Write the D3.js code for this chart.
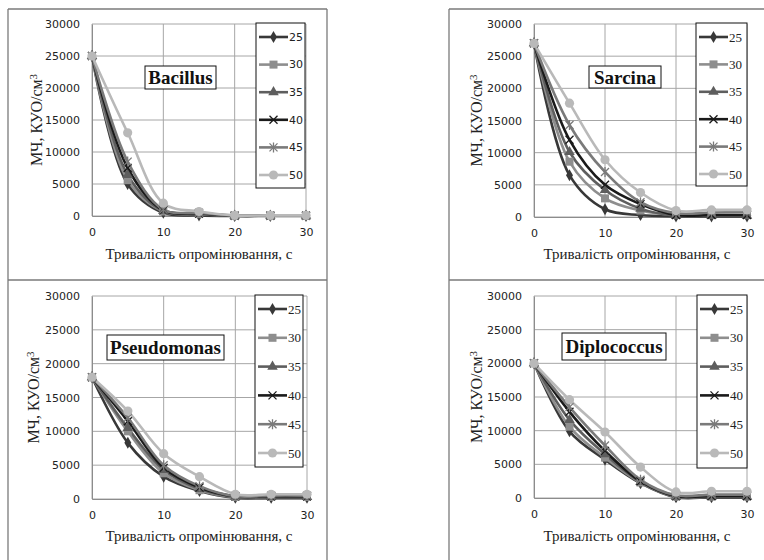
<!DOCTYPE html>
<html>
<head>
<meta charset="utf-8">
<script src="https://cdn.jsdelivr.net/npm/d3@7"></script>
<style>
  body { margin: 0; background: #fff; }
  svg { display: block; }
  .serif { font-family: "Liberation Serif", "Times New Roman", "DejaVu Serif", serif; }
  .sans { font-family: "DejaVu Sans", "Liberation Sans", sans-serif; }
</style>
</head>
<body>
<svg id="chart" width="764" height="560"></svg>
<script>
// durations, temperatures, ticks
const times = [0, 5, 10, 15, 20, 25, 30];
const temps = ["25", "30", "35", "40", "45", "50"];
const xTicks = [0, 10, 20, 30];
const yTicks = [0, 5000, 10000, 15000, 20000, 25000, 30000];

// one row per temperature (25..50), one value per duration
const bacillus = [
  [25000, 5000, 500, 100, 0, 0, 0],
  [25000, 5600, 700, 300, 50, 50, 50],
  [25000, 6400, 800, 400, 50, 50, 50],
  [25000, 7500, 900, 400, 50, 50, 50],
  [25000, 8500, 1000, 500, 50, 50, 50],
  [25000, 13000, 2000, 700, 100, 100, 100]
];
const sarcina = [
  [27000, 6500, 1200, 300, 100, 100, 100],
  [27000, 8600, 2900, 1000, 300, 300, 300],
  [27000, 10100, 4200, 1300, 200, 200, 200],
  [27000, 12000, 5000, 2000, 300, 300, 300],
  [27000, 14300, 7000, 2300, 600, 700, 800],
  [27000, 17700, 8900, 3800, 1000, 1100, 1100]
];
const pseudomonas = [
  [18000, 8300, 3300, 1200, 200, 200, 200],
  [18000, 10000, 3800, 1300, 300, 300, 300],
  [18000, 10500, 4300, 1500, 300, 300, 300],
  [18000, 11500, 4600, 1700, 400, 400, 400],
  [18000, 12000, 5000, 1900, 400, 500, 500],
  [18000, 13000, 6700, 3300, 700, 700, 700]
];
const diplococcus = [
  [20000, 9900, 5700, 2200, 100, 100, 100],
  [20000, 10600, 6000, 2300, 200, 200, 200],
  [20000, 11600, 6500, 2400, 200, 200, 200],
  [20000, 12800, 7000, 2500, 300, 300, 300],
  [20000, 13500, 7800, 2700, 400, 500, 500],
  [20000, 14600, 9800, 4600, 900, 1000, 1000]
];

const colors = ["#383838", "#8e8e8e", "#5e5e5e", "#1a1a1a", "#7a7a7a", "#b9b9b9"];
const markers = ["diamond", "square", "triangle", "x", "star", "circle"];

const panels = [
  { name: "Bacillus", data: bacillus, px: [92, 306], py: [216, 24],
    leg: { x: 256, y: 23, w: 49, h: 165, step: 27.6, cls: "sans", size: 11 },
    title: { x: 145, y: 66, w: 71, h: 23 }, ylab: 36, xlab: [199, 259] },
  { name: "Sarcina", data: sarcina, px: [534, 747], py: [217, 24],
    leg: { x: 696, y: 23, w: 51, h: 163, step: 27.4, cls: "serif", size: 13 },
    title: { x: 589, y: 66, w: 72, h: 22 }, ylab: 476, xlab: [637, 259] },
  { name: "Pseudomonas", data: pseudomonas, px: [92, 307], py: [499, 296],
    leg: { x: 255, y: 295, w: 48, h: 172, step: 28.8, cls: "serif", size: 13 },
    title: { x: 107, y: 335, w: 117, h: 25 }, ylab: 33, xlab: [199, 541] },
  { name: "Diplococcus", data: diplococcus, px: [534, 747], py: [498, 296],
    leg: { x: 697, y: 295, w: 50, h: 173, step: 28.8, cls: "serif", size: 13 },
    title: { x: 562, y: 333, w: 104, h: 27 }, ylab: 476, xlab: [637, 541] }
];

const svg = d3.select("#chart");

// outer frames of the four panels
const frame = svg.append("g").attr("stroke", "#7a7a7a").attr("stroke-width", 1.3);
[[8, 9, 8, 560], [327, 9, 327, 560], [449, 9, 449, 560],
 [8, 9, 327, 9], [449, 9, 764, 9], [8, 280, 327, 280], [449, 280, 764, 280]]
  .forEach(l => frame.append("line").attr("x1", l[0]).attr("y1", l[1]).attr("x2", l[2]).attr("y2", l[3]));

function drawMarker(g, type, color) {
  if (type === "diamond") {
    g.append("path").attr("d", d3.symbol(d3.symbolDiamond, 42)()).attr("fill", color);
  } else if (type === "square") {
    g.append("rect").attr("x", -4).attr("y", -4).attr("width", 8).attr("height", 8).attr("fill", color);
  } else if (type === "triangle") {
    g.append("path").attr("d", d3.symbol(d3.symbolTriangle, 48)()).attr("fill", color);
  } else if (type === "x") {
    g.append("path").attr("d", "M-4,-4L4,4M-4,4L4,-4").attr("stroke", color).attr("stroke-width", 1.3);
  } else if (type === "star") {
    g.append("path").attr("d", "M-4,-4L4,4M-4,4L4,-4M0,-5L0,5").attr("stroke", color).attr("stroke-width", 1.3);
  } else {
    g.append("circle").attr("r", 4.6).attr("fill", color);
  }
}

panels.forEach(p => {
  const g = svg.append("g");
  const x = d3.scaleLinear().domain([0, 30]).range(p.px);
  const y = d3.scaleLinear().domain([0, 30000]).range(p.py);

  // grid
  g.append("g").selectAll("line").data(yTicks).join("line")
    .attr("x1", p.px[0]).attr("x2", p.px[1])
    .attr("y1", d => y(d)).attr("y2", d => y(d))
    .attr("stroke", "#a6a6a6").attr("stroke-width", 1);
  g.append("g").selectAll("line").data(xTicks).join("line")
    .attr("y1", p.py[0]).attr("y2", p.py[1])
    .attr("x1", d => x(d)).attr("x2", d => x(d))
    .attr("stroke", "#a6a6a6").attr("stroke-width", 1);

  // axes
  const xAxis = g.append("g").attr("transform", `translate(0,${p.py[0]})`)
    .call(d3.axisBottom(x).tickValues(xTicks).tickSize(0).tickPadding(12));
  const yAxis = g.append("g").attr("transform", `translate(${p.px[0]},0)`)
    .call(d3.axisLeft(y).tickValues(yTicks).tickSize(0).tickPadding(12).tickFormat(d3.format("d")));
  [xAxis, yAxis].forEach(a => {
    a.attr("font-family", null).attr("font-size", null).attr("class", "sans");
    a.select(".domain").attr("stroke", "#8c8c8c");
    a.selectAll("text").attr("font-size", 11).attr("fill", "#222");
  });

  // series
  const line = d3.line().x((d, i) => x(times[i])).y(d => y(d)).curve(d3.curveCatmullRom.alpha(0.5));
  p.data.forEach((row, k) => {
    g.append("path").attr("d", line(row)).attr("fill", "none")
      .attr("stroke", colors[k]).attr("stroke-width", 2.6);
  });
  p.data.forEach((row, k) => {
    row.forEach((v, i) => {
      const m = g.append("g").attr("transform", `translate(${x(times[i])},${y(v)})`);
      drawMarker(m, markers[k], colors[k]);
    });
  });

  // legend
  const L = p.leg;
  const lg = g.append("g");
  lg.append("rect").attr("x", L.x).attr("y", L.y).attr("width", L.w).attr("height", L.h)
    .attr("fill", "#fff").attr("stroke", "#111").attr("stroke-width", 1);
  temps.forEach((t, k) => {
    const cy = L.y + 14 + k * L.step;
    lg.append("line").attr("x1", L.x + 3).attr("x2", L.x + 32).attr("y1", cy).attr("y2", cy)
      .attr("stroke", colors[k]).attr("stroke-width", 2.6);
    const m = lg.append("g").attr("transform", `translate(${L.x + 17.5},${cy})`);
    drawMarker(m, markers[k], colors[k]);
    lg.append("text").attr("class", L.cls).attr("x", L.x + 33).attr("y", cy).attr("dy", "0.35em")
      .attr("font-size", L.size).attr("fill", "#222").text(t);
  });

  // title box
  const T = p.title;
  g.append("rect").attr("x", T.x).attr("y", T.y).attr("width", T.w).attr("height", T.h)
    .attr("fill", "#fff").attr("stroke", "#111").attr("stroke-width", 1);
  g.append("text").attr("class", "serif").attr("x", T.x + T.w / 2).attr("y", T.y + T.h / 2).attr("dy", "0.35em")
    .attr("text-anchor", "middle").attr("font-weight", "bold").attr("font-size", 19)
    .attr("fill", "#111").text(p.name);

  // axis titles
  const yl = g.append("text").attr("class", "serif")
    .attr("transform", `translate(${p.ylab},${(p.py[0] + p.py[1]) / 2}) rotate(-90)`)
    .attr("text-anchor", "middle").attr("dy", "0.35em")
    .attr("font-size", 16).attr("fill", "#222");
  yl.append("tspan").text("МЧ, КУО/см");
  yl.append("tspan").attr("dy", "-0.45em").attr("font-size", 11).text("3");

  g.append("text").attr("class", "serif").attr("x", p.xlab[0]).attr("y", p.xlab[1])
    .attr("text-anchor", "middle").attr("font-size", 15).attr("fill", "#222")
    .text("Тривалість опромінювання, с");
});
</script>
</body>
</html>
